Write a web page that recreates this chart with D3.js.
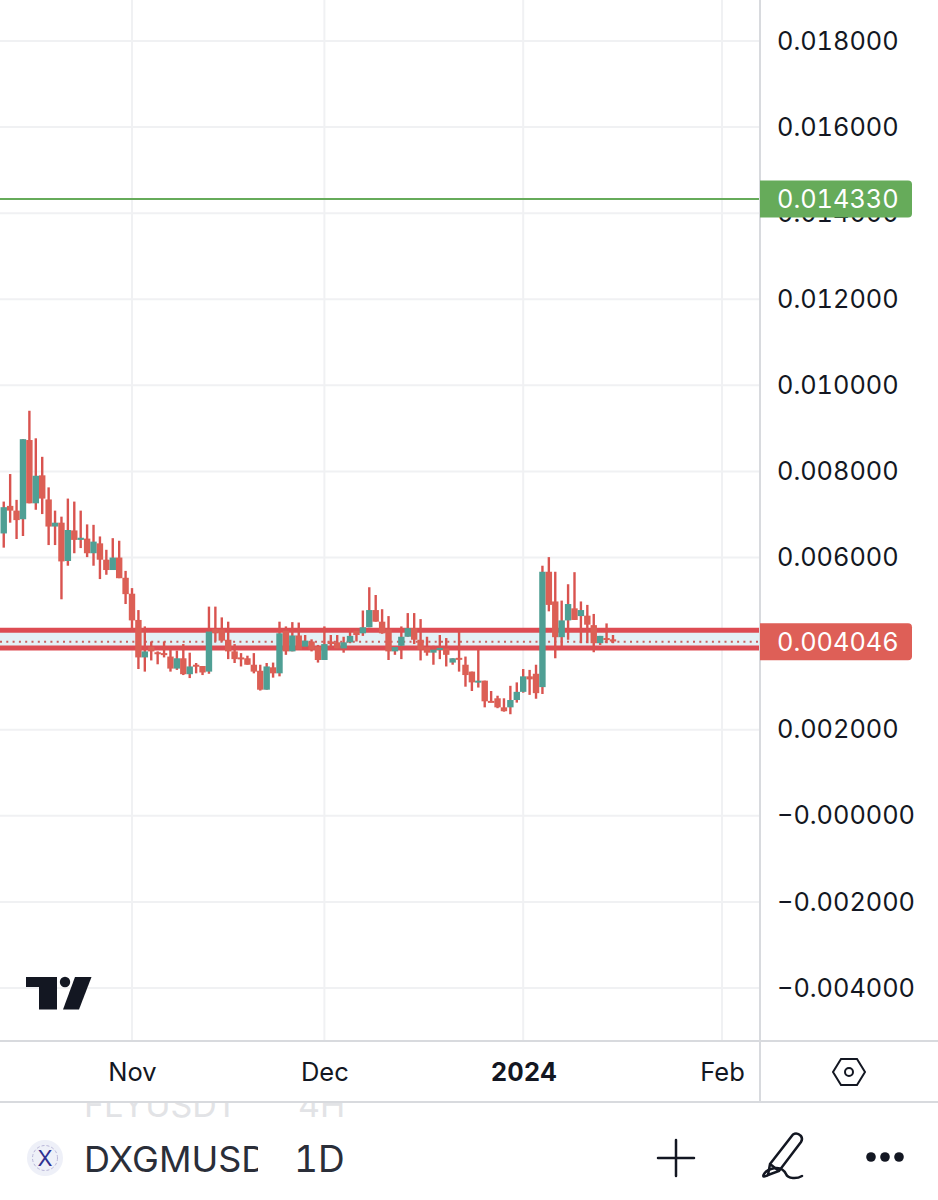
<!DOCTYPE html>
<html>
<head>
<meta charset="utf-8">
<script src="https://cdn.jsdelivr.net/npm/d3@7"></script>
<style>
	html, body { margin: 0; padding: 0; background: #fff; }
	svg { display: block; }
	text { font-family: Inter, "Noto Sans", sans-serif; font-variant-numeric: tabular-nums; }
	.domain { display: none; }
</style>
</head>
<body>
<div id="chart"></div>
<script>
// daily candles, first one is 12 Oct 2023
var first_day = new Date(Date.UTC(2023, 9, 12));

var opens = [0.00656,0.00720,0.00709,0.00689,0.00873,0.00726,0.00791,0.00735,0.00672,0.00681,
	0.00592,0.00663,0.00641,0.00644,0.00610,0.00633,0.00595,0.00571,0.00600,0.00553,
	0.00516,0.00455,0.00368,0.00393,0.00380,0.00378,0.00370,0.00342,0.00366,0.00329,
	0.00351,0.00348,0.00335,0.00434,0.00433,0.00409,0.00382,0.00368,0.00366,0.00351,
	0.00337,0.00293,0.00345,0.00331,0.00430,0.00382,0.00419,0.00393,0.00405,0.00393,
	0.00362,0.00405,0.00403,0.00389,0.00403,0.00430,0.00424,0.00438,0.00478,0.00451,
	0.00433,0.00382,0.00395,0.00416,0.00436,0.00409,0.00392,0.00379,0.00387,0.00389,
	0.00356,0.00367,0.00351,0.00335,0.00310,0.00314,0.00267,0.00273,0.00252,0.00252,
	0.00269,0.00288,0.00324,0.00330,0.00299,0.00567,0.00498,0.00415,0.00454,0.00482,
	0.00464,0.00465,0.00443,0.00401,0.00413,0.00410];

var highs = [0.00730,0.00794,0.00734,0.00875,0.00941,0.00877,0.00834,0.00763,0.00709,0.00695,
	0.00737,0.00730,0.00709,0.00677,0.00676,0.00649,0.00618,0.00645,0.00639,0.00569,
	0.00529,0.00478,0.00440,0.00405,0.00382,0.00405,0.00389,0.00384,0.00399,0.00379,
	0.00355,0.00348,0.00486,0.00486,0.00461,0.00451,0.00399,0.00378,0.00372,0.00378,
	0.00351,0.00355,0.00356,0.00451,0.00440,0.00450,0.00449,0.00420,0.00410,0.00397,
	0.00440,0.00420,0.00420,0.00416,0.00436,0.00436,0.00477,0.00531,0.00513,0.00480,
	0.00464,0.00392,0.00440,0.00471,0.00471,0.00457,0.00416,0.00395,0.00420,0.00413,
	0.00366,0.00433,0.00370,0.00335,0.00386,0.00314,0.00290,0.00279,0.00273,0.00302,
	0.00310,0.00341,0.00339,0.00351,0.00581,0.00601,0.00567,0.00500,0.00538,0.00566,
	0.00498,0.00490,0.00469,0.00418,0.00447,0.00420];

var lows = [0.00623,0.00681,0.00643,0.00650,0.00726,0.00711,0.00701,0.00629,0.00629,0.00503,
	0.00581,0.00610,0.00622,0.00601,0.00581,0.00550,0.00560,0.00571,0.00552,0.00492,
	0.00428,0.00341,0.00335,0.00361,0.00352,0.00368,0.00335,0.00339,0.00327,0.00320,
	0.00331,0.00327,0.00330,0.00405,0.00405,0.00364,0.00355,0.00347,0.00351,0.00331,
	0.00291,0.00293,0.00321,0.00324,0.00374,0.00382,0.00386,0.00389,0.00382,0.00356,
	0.00362,0.00389,0.00387,0.00379,0.00401,0.00405,0.00418,0.00438,0.00451,0.00423,
	0.00362,0.00374,0.00364,0.00416,0.00399,0.00361,0.00372,0.00351,0.00364,0.00347,
	0.00351,0.00335,0.00300,0.00290,0.00298,0.00252,0.00264,0.00250,0.00242,0.00236,
	0.00263,0.00286,0.00281,0.00272,0.00283,0.00475,0.00366,0.00393,0.00409,0.00455,
	0.00401,0.00401,0.00380,0.00397,0.00401,0.00401];

var closes = [0.00717,0.00709,0.00687,0.00875,0.00726,0.00790,0.00737,0.00672,0.00681,0.00591,
	0.00664,0.00641,0.00646,0.00610,0.00637,0.00595,0.00571,0.00600,0.00552,0.00515,
	0.00454,0.00368,0.00382,0.00382,0.00376,0.00374,0.00342,0.00366,0.00329,0.00347,
	0.00347,0.00333,0.00428,0.00424,0.00407,0.00382,0.00364,0.00365,0.00351,0.00335,
	0.00293,0.00347,0.00331,0.00424,0.00382,0.00419,0.00386,0.00407,0.00386,0.00362,
	0.00399,0.00399,0.00389,0.00403,0.00418,0.00420,0.00438,0.00478,0.00451,0.00424,
	0.00382,0.00392,0.00416,0.00436,0.00409,0.00386,0.00379,0.00386,0.00390,0.00374,
	0.00366,0.00364,0.00327,0.00310,0.00314,0.00266,0.00264,0.00252,0.00243,0.00269,
	0.00288,0.00324,0.00317,0.00285,0.00567,0.00490,0.00415,0.00454,0.00492,0.00455,
	0.00478,0.00444,0.00401,0.00418,0.00409,0.00405];

var price_ticks = [0.018,0.016,0.014,0.012,0.010,0.008,0.006,0.004,0.002,0,-0.002,-0.004];
var price_tick_labels = ["0.018000","0.016000","0.014000","0.012000","0.010000","0.008000","0.006000","0.004000","0.002000","\u22120.000000","\u22120.002000","\u22120.004000"];
var month_ticks = [new Date(Date.UTC(2023,10,1)), new Date(Date.UTC(2023,11,1)), new Date(Date.UTC(2024,0,1)), new Date(Date.UTC(2024,1,1))];
var month_labels = ["Nov","Dec","2024","Feb"];

var alert_price = 0.01433;
var last_price = 0.004046;
var band_prices = [0.00431, 0.00390];

var width = 938, height = 1200,
	plot_right = 760,
	plot_bottom = 1041,
	axis_bottom = 1102;

var up_color = "#4f9f94", down_color = "#dc5f55", wick_color = "#d9534f",
	grid_color = "#f0f1f3", border_color = "#d8dade", text_color = "#131722";

var svg = d3.select("#chart")
	.append("svg")
	.attr("width", width)
	.attr("height", height);

var x = d3.scaleUtc()
	.domain([month_ticks[0], month_ticks[3]])
	.range([132, 722]);

var y = d3.scaleLinear()
	.domain([0.018, -0.004])
	.range([41, 988]);

var candles = opens.map(function(o, i) {
	return { date: d3.utcDay.offset(first_day, i), open: o, high: highs[i], low: lows[i], close: closes[i] };
});

// grid
svg.append("g").selectAll("line")
	.data(price_ticks)
	.enter().append("line")
	.attr("x1", 0).attr("x2", plot_right)
	.attr("y1", function(d) { return y(d); })
	.attr("y2", function(d) { return y(d); })
	.attr("stroke", grid_color).attr("stroke-width", 2);

svg.append("g").selectAll("line")
	.data(month_ticks)
	.enter().append("line")
	.attr("x1", function(d) { return x(d); })
	.attr("x2", function(d) { return x(d); })
	.attr("y1", 0).attr("y2", plot_bottom)
	.attr("stroke", grid_color).attr("stroke-width", 2);

// green alert line
svg.append("line")
	.attr("x1", 0).attr("x2", plot_right)
	.attr("y1", y(alert_price)).attr("y2", y(alert_price))
	.attr("stroke", "#66ab5a").attr("stroke-width", 2);

// red band around last price
svg.append("rect")
	.attr("x", 0).attr("width", plot_right)
	.attr("y", y(band_prices[0]))
	.attr("height", y(band_prices[1]) - y(band_prices[0]))
	.attr("fill", "#e4f1f6");

svg.append("g").selectAll("line")
	.data(band_prices)
	.enter().append("line")
	.attr("x1", 0).attr("x2", plot_right)
	.attr("y1", function(d) { return y(d); })
	.attr("y2", function(d) { return y(d); })
	.attr("stroke", "#dd4c53").attr("stroke-width", 5);

svg.append("line")
	.attr("x1", 0).attr("x2", plot_right)
	.attr("y1", y(last_price)).attr("y2", y(last_price))
	.attr("stroke", "#c9605f").attr("stroke-width", 2)
	.attr("stroke-dasharray", "2 4.3");

// candles
var candle = svg.append("g").selectAll("g")
	.data(candles)
	.enter().append("g");

candle.append("line")
	.attr("x1", function(d) { return x(d.date); })
	.attr("x2", function(d) { return x(d.date); })
	.attr("y1", function(d) { return y(d.high); })
	.attr("y2", function(d) { return y(d.low); })
	.attr("stroke", wick_color).attr("stroke-width", 2.4);

candle.append("rect")
	.attr("x", function(d) { return x(d.date) - 3.2; })
	.attr("width", 6.4)
	.attr("y", function(d) { return y(Math.max(d.open, d.close)); })
	.attr("height", function(d) { return Math.max(2, Math.abs(y(d.open) - y(d.close))); })
	.attr("fill", function(d) { return d.close >= d.open ? up_color : down_color; });

// tradingview logo
var logo = svg.append("g").attr("fill", text_color);
logo.append("path").attr("d", "M26 977H57V1009.5H39V987H26Z");
logo.append("circle").attr("cx", 65).attr("cy", 982).attr("r", 5.2);
logo.append("path").attr("d", "M75 977H91.5L79 1009.5H63Z");

// price axis
var yAxis = d3.axisRight(y)
	.tickValues(price_ticks)
	.tickSize(0)
	.tickPadding(0)
	.tickFormat(function(d, i) { return price_tick_labels[i]; });

var xAxis = d3.axisBottom(x)
	.tickValues(month_ticks)
	.tickSize(0)
	.tickPadding(0)
	.tickFormat(function(d, i) { return month_labels[i]; });

svg.append("rect")
	.attr("x", 0).attr("y", plot_bottom)
	.attr("width", width).attr("height", axis_bottom - plot_bottom)
	.attr("fill", "#fff");

var y_group = svg.append("g")
	.attr("transform", "translate(777,0)")
	.call(yAxis);
y_group.selectAll("text")
	.attr("x", 0)
	.attr("text-anchor", "start")
	.style("font-family", "Inter, sans-serif")
	.style("font-size", "25.3px")
	.style("fill", text_color);

var x_group = svg.append("g")
	.attr("transform", "translate(0,1081)")
	.call(xAxis);
x_group.selectAll("text")
	.attr("y", 0)
	.attr("dy", 0)
	.style("font-family", "Inter, sans-serif")
	.style("font-size", "25.5px")
	.style("fill", text_color)
	.style("font-weight", function(d, i) { return month_labels[i] == "2024" ? 700 : 400; });

// frame
svg.append("line").attr("x1", 0).attr("x2", width).attr("y1", plot_bottom).attr("y2", plot_bottom)
	.attr("stroke", border_color).attr("stroke-width", 2);
svg.append("line").attr("x1", 0).attr("x2", width).attr("y1", axis_bottom).attr("y2", axis_bottom)
	.attr("stroke", border_color).attr("stroke-width", 2);
svg.append("line").attr("x1", plot_right).attr("x2", plot_right).attr("y1", 0).attr("y2", axis_bottom)
	.attr("stroke", border_color).attr("stroke-width", 2);

// price tags
function price_tag(price, color) {
	var mid = y(price);
	svg.append("path")
		.attr("d", "M" + plot_right + " " + (mid - 18.5) + "H908a4 4 0 0 1 4 4V" + (mid + 14.5) + "a4 4 0 0 1 -4 4H" + plot_right + "Z")
		.attr("fill", color);
	svg.append("text")
		.attr("x", 777).attr("y", mid + 9.5)
		.style("font-size", "25.3px")
		.style("fill", "#fff")
		.text(price.toFixed(6));
}
price_tag(alert_price, "#66ab5a");
price_tag(last_price, "#de5f57");

// hexagon settings icon
var hex = svg.append("g").attr("fill", "none").attr("stroke", text_color).attr("stroke-width", 2);
hex.append("path").attr("d", "M841 1059H857L865 1072L857 1085H841L833 1072Z");
hex.append("circle").attr("cx", 849).attr("cy", 1072).attr("r", 4);

// toolbar under the chart
var defs = svg.append("defs");
defs.append("clipPath").attr("id", "ghost_clip")
	.append("rect").attr("x", 0).attr("y", axis_bottom + 1).attr("width", width).attr("height", 40);
defs.append("clipPath").attr("id", "symbol_clip")
	.append("rect").attr("x", 80).attr("y", 1130).attr("width", 178).attr("height", 60);

var ghost = svg.append("g").attr("clip-path", "url(#ghost_clip)")
	.style("font-size", "34px").style("fill", "#e2e3e6");
ghost.append("text").attr("x", 84).attr("y", 1117).text("FLYUSDT");
ghost.append("text").attr("x", 298).attr("y", 1117).text("4H");

svg.append("circle").attr("cx", 45).attr("cy", 1158).attr("r", 18).attr("fill", "#eef0f8");
svg.append("circle").attr("cx", 45).attr("cy", 1158).attr("r", 12.5)
	.attr("fill", "none").attr("stroke", "#b9b6d8").attr("stroke-width", 1).attr("stroke-dasharray", "3 2");
svg.append("text").attr("x", 45).attr("y", 1166).attr("text-anchor", "middle")
	.style("font-size", "22px").style("fill", "#2e3192").text("X");

svg.append("text").attr("x", 84).attr("y", 1172)
	.attr("clip-path", "url(#symbol_clip)")
	.style("font-size", "36px").style("fill", "#2a2e39")
	.text("DXGMUSDT");
svg.append("text").attr("x", 294).attr("y", 1172)
	.style("font-size", "37px").style("fill", "#2a2e39")
	.text("1D");

var tools = svg.append("g").attr("fill", "none").attr("stroke", text_color).attr("stroke-width", 2.5).attr("stroke-linecap", "round");
tools.append("path").attr("d", "M658 1158H694M676 1140V1176");
tools.append("path").attr("d", "M770 1164L793 1134.5Q797 1132 801 1136Q803 1139 801 1142L779 1171L768 1175ZM770 1164L779 1171");
tools.append("path").attr("d", "M768 1175C760 1180 763 1172 771 1169C780 1166 784 1170 786 1174C788 1179 797 1179 802 1176");
svg.append("g").attr("fill", text_color).selectAll("circle")
	.data(["a", "b", "c"])
	.enter().append("circle")
	.attr("cx", function(d, i) { return 871 + i * 14; })
	.attr("cy", 1157)
	.attr("r", 4.8);
</script>
</body>
</html>
